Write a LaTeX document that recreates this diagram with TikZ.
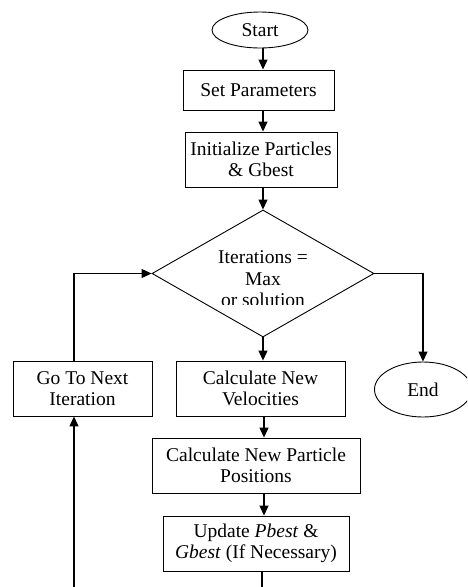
\documentclass[tikz,border=0pt]{standalone}
\usepackage{fontspec}
\setmainfont{Liberation Serif}
\usetikzlibrary{shapes.geometric,arrows.meta}
\begin{document}
\begin{tikzpicture}[x=1pt,y=-1pt,
  every node/.style={font=\fontsize{19.5}{21.5}\selectfont, text=black},
  proc/.style={draw, line width=0.9pt, rectangle, inner sep=0pt, align=center},
  term/.style={draw, line width=0.9pt, ellipse, inner sep=0pt, align=center},
  arr/.style={line width=1.1pt, -{Triangle[length=10pt,width=9pt]}},
  ln/.style={line width=1.1pt}]
\useasboundingbox (0,0) rectangle (467,587);
\clip (0,0) rectangle (467,587);
\fill[white] (0,0) rectangle (467,587);
\coordinate (spine) at (263,0);
\coordinate (spineb) at (264,0);
\node[term, minimum width=96pt, minimum height=36pt] (start) at (260,30) {Start};
\node[proc, minimum width=151pt, minimum height=40pt] (setp) at (258.5,90) {Set Parameters};
\node[proc, minimum width=152pt, minimum height=55pt] (init) at (261,159.5) {Initialize Particles\\\& Gbest};
\node[draw, line width=0.9pt, diamond, inner sep=0pt, minimum width=222pt, minimum height=127pt] (dec) at (263,273.5) {};
\begin{scope}
\clip (150,240) rectangle (380,304);
\node[align=center] (dectext) at (263,279) {Iterations =\\Max\\or solution};
\end{scope}
\node[proc, minimum width=139pt, minimum height=55pt] (goto) at (82.5,388.5) {Go To Next\\Iteration};
\node[proc, minimum width=169pt, minimum height=55pt] (vel) at (260.5,388.5) {Calculate New\\Velocities};
\node[term, minimum width=97pt, minimum height=55pt] (endn) at (423,389.5) {End};
\node[proc, minimum width=208pt, minimum height=55pt] (pos) at (256,465.5) {Calculate New Particle\\Positions};
\node[proc, minimum width=186pt, minimum height=55pt] (upd) at (256,543.5) {Update \textit{Pbest} \&\\\textit{Gbest} (If Necessary)};
\coordinate (bot) at (262,590);
\coordinate (loopin) at (74,590);
\coordinate (endcol) at (423,0);
\coordinate (gocol) at (74,0);
\draw[arr] (start.south -| spine) -- (setp.north -| spine);
\draw[arr] (setp.south -| spine) -- (init.north -| spine);
\draw[arr] (init.south -| dec.north) -- (dec.north);
\draw[arr] (dec.south) -- (vel.north -| dec.south);
\draw[arr] (vel.south -| spineb) -- (pos.north -| spineb);
\draw[arr] (pos.south -| spineb) -- (upd.north -| spineb);
\draw[ln] (upd.south -| bot) -- (bot);
\draw[arr] (dec.east) -- (dec.east -| endcol) -- (endn.north -| endcol);
\draw[arr] (goto.north -| gocol) -- (dec.west -| gocol) -- (dec.west);
\draw[arr] (loopin) -- (goto.south -| loopin);
\end{tikzpicture}
\end{document}
